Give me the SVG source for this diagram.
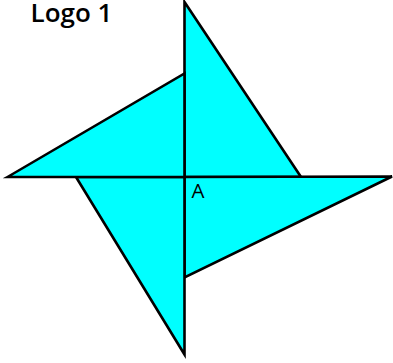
<svg xmlns="http://www.w3.org/2000/svg" width="393" height="363" viewBox="0 0 393 363">
<style>
.blade{fill:#00ffff;stroke:#000;stroke-width:2.6;stroke-linejoin:miter;stroke-linecap:round}
.t{font-family:"Open Sans","Noto Sans",sans-serif;fill:#000}
</style>
<rect width="393" height="363" fill="#fff"/>
<g id="blades">
<polygon class="blade" points="184.500,2 301,177 184.500,177"/>
<polygon class="blade" points="392,176.500 184.500,277.500 184.500,177"/>
<polygon class="blade" points="184.500,354.500 76,177 184.500,177"/>
<polygon class="blade" points="7.500,177 184.500,73.500 184.500,177"/>
</g>
<text class="t" x="30.500" y="22" font-size="26" font-weight="600">Logo 1</text>
<text class="t" x="191.500" y="198" font-size="20.500">A</text>
</svg>
